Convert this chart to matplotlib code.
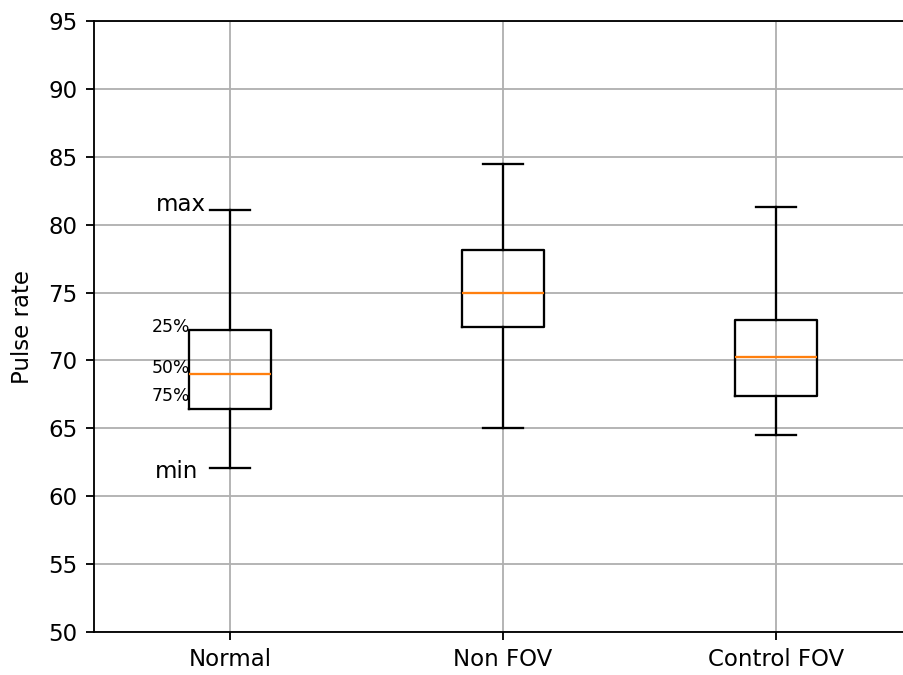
import matplotlib.pyplot as plt

grupos = ['Normal', 'Non FOV', 'Control FOV']
minimos = [62.1, 65.0, 64.5]
q1 = [66.45, 72.45, 67.4]
medianas = [69.0, 74.95, 70.25]
q3 = [72.25, 78.15, 73.0]
maximos = [81.1, 84.5, 81.3]

stats = []
for i in range(len(grupos)):
    stats.append(dict(label=grupos[i], whislo=minimos[i], q1=q1[i], med=medianas[i],
                      q3=q3[i], whishi=maximos[i], fliers=[]))

dpi = 165
fig = plt.figure(figsize=(903/dpi, 675/dpi), dpi=dpi)
ax = fig.add_axes([93.5/903, 43/675, 819/903, 611/675])
ax.bxp(stats, widths=0.3, showfliers=False)
ax.set_ylim(50, 95)
ax.set_yticks(range(50, 96, 5))
ax.set_ylabel('Pulse rate', labelpad=6)
ax.spines['right'].set_visible(False)
ax.grid(True)

# etiquetas na primeira caixa
ax.text(0.912, 81.5, 'max', ha='right', va='center', fontsize=10)
ax.text(0.883, 61.85, 'min', ha='right', va='center', fontsize=10)
ax.text(0.855, 72.45, '25%', ha='right', va='center', fontsize=7.5)
ax.text(0.855, 69.45, '50%', ha='right', va='center', fontsize=7.5)
ax.text(0.855, 67.4, '75%', ha='right', va='center', fontsize=7.5)

fig.savefig('out.png', dpi=dpi)
